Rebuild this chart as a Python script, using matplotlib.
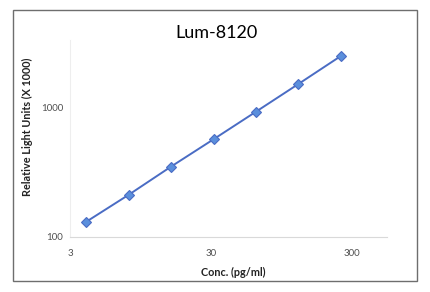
import matplotlib
matplotlib.use("Agg")
import matplotlib.pyplot as plt
from matplotlib.patches import Rectangle

conc = [3.9, 7.8, 15.6, 31.25, 62.5, 125, 250]
rlu = [131, 212, 351, 572, 936, 1535, 2530]
x_ticks = [3, 30, 300]
x_tick_labels = ["3", "30", "300"]
y_ticks = [100, 1000]
y_tick_labels = ["100", "1000"]

W, H = 430, 292
fig = plt.figure(figsize=(W / 100, H / 100), dpi=100)
fig.patch.set_facecolor("white")

# outer border
fig.add_artist(Rectangle((12.5 / W, 1 - 281 / H), (416.5 - 12.5) / W, (281 - 10) / H,
                         transform=fig.transFigure, fill=False, edgecolor="#6e6e6e", lw=1.0))

left, right, bottom, top = 70, 387, 237, 40
ax = fig.add_axes([left / W, 1 - bottom / H, (right - left) / W, (bottom - top) / H])
ax.set_xscale("log")
ax.set_yscale("log")
ax.set_xlim(3, 531)
ax.set_ylim(100, 3366)

ax.plot(conc, rlu, color="#4a6cc4", lw=1.4, marker="D", markersize=5,
        markerfacecolor="#5b8fdc", markeredgecolor="#4a6cc4", markeredgewidth=0.8, zorder=3)

for s in ["top", "right"]:
    ax.spines[s].set_visible(False)
ax.spines["left"].set_color("#eeeeee")
ax.spines["bottom"].set_color("#d9d9d9")
ax.spines["left"].set_linewidth(0.8)
ax.spines["bottom"].set_linewidth(0.8)

ax.set_xticks(x_ticks)
ax.set_xticklabels(x_tick_labels)
ax.set_yticks(y_ticks)
ax.set_yticklabels(y_tick_labels)
ax.minorticks_off()
ax.tick_params(axis="both", length=0, labelsize=7, labelcolor="#505050", pad=9)
ax.tick_params(axis="y", pad=5)
for lab in ax.get_xticklabels() + ax.get_yticklabels():
    lab.set_family("Lato")

fig.text(216 / W, 1 - 33 / H, "Lum-8120", ha="center", va="center",
         fontsize=13, family="Lato", color="#000000")
fig.text(233 / W, 1 - 272 / H, "Conc. (pg/ml)", ha="center", va="center",
         fontsize=7.8, family="Lato", fontweight="bold", color="#222222")
fig.text(27 / W, 1 - 127 / H, "Relative Light Units (X 1000)", ha="center", va="center",
         rotation=90, fontsize=7.8, family="Lato", fontweight="bold", color="#222222")

fig.savefig("out.png", dpi=100)
